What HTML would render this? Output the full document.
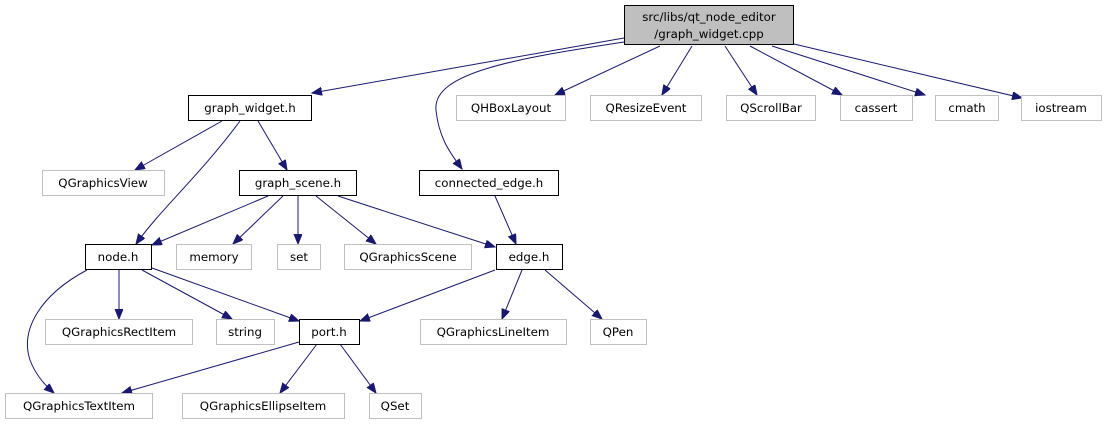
<!DOCTYPE html>
<html><head><meta charset="utf-8"><style>
html,body{margin:0;padding:0;background:#fff;}
svg{display:block;}
text{font-family:"DejaVu Sans","Liberation Sans",sans-serif;font-size:11.8px;fill:#000;}
.g{fill:#fff;stroke:#bfbfbf;stroke-width:1;}
.b{fill:#fff;stroke:#000;stroke-width:1;}
.e{fill:none;stroke:#191970;stroke-width:1;}
</style></head><body>
<svg width="1108" height="425" viewBox="0 0 1108 425" xmlns="http://www.w3.org/2000/svg">
<defs><marker id="a" markerUnits="userSpaceOnUse" markerWidth="12" markerHeight="10" refX="10" refY="4" orient="auto"><path d="M0,0 L10,4 L0,8 Z" fill="#191970" stroke="#191970"/></marker></defs>
<g marker-end="url(#a)">
<path class="e" d="M624,38 L312,93"/>
<path class="e" d="M624,42 C520,58 432,72 436,110 C439,140 452,155 462,169"/>
<path class="e" d="M660,46 L555,95"/>
<path class="e" d="M692,46 L662,95"/>
<path class="e" d="M725,46 L757,95"/>
<path class="e" d="M750,46 L842,95"/>
<path class="e" d="M772,46 L925,95"/>
<path class="e" d="M794,44 L1022,98"/>
<path class="e" d="M222,121 L135,170"/>
<path class="e" d="M240,121 C200,175 160,210 136,244"/>
<path class="e" d="M258,121 L287,170"/>
<path class="e" d="M268,196 L152,245"/>
<path class="e" d="M283,196 L233,244"/>
<path class="e" d="M298,196 L298,244"/>
<path class="e" d="M316,196 L376,244"/>
<path class="e" d="M338,196 L495,247"/>
<path class="e" d="M495,196 L516,244"/>
<path class="e" d="M119,270 L119,319"/>
<path class="e" d="M142,270 L232,319"/>
<path class="e" d="M152,268 L299,321"/>
<path class="e" d="M87,270 C40,295 20,330 30,360 C36,376 46,386 54,393"/>
<path class="e" d="M495,270 L360,321"/>
<path class="e" d="M522,270 L502,319"/>
<path class="e" d="M545,270 L602,319"/>
<path class="e" d="M299,342 L122,393"/>
<path class="e" d="M317,344 L280,393"/>
<path class="e" d="M340,344 L376,393"/>
</g>
<rect x="624.5" y="5.5" width="169" height="39" fill="#bfbfbf" stroke="#000"/>
<text x="709" y="21" text-anchor="middle">src/libs/qt_node_editor</text>
<text x="709" y="38" text-anchor="middle">/graph_widget.cpp</text>
<g text-anchor="middle">
<rect class="b" x="188.5" y="95.5" width="123" height="25"/><text x="250" y="112">graph_widget.h</text>
<rect class="g" x="456.5" y="95.5" width="109" height="25"/><text x="511" y="112">QHBoxLayout</text>
<rect class="g" x="590.5" y="95.5" width="111" height="25"/><text x="646" y="112">QResizeEvent</text>
<rect class="g" x="726.5" y="95.5" width="89" height="25"/><text x="771" y="112">QScrollBar</text>
<rect class="g" x="840.5" y="95.5" width="72" height="25"/><text x="876" y="112">cassert</text>
<rect class="g" x="935.5" y="95.5" width="63" height="25"/><text x="967" y="112">cmath</text>
<rect class="g" x="1021.5" y="95.5" width="80" height="25"/><text x="1061" y="112">iostream</text>
<rect class="g" x="42.5" y="170.5" width="122" height="25"/><text x="103" y="187">QGraphicsView</text>
<rect class="b" x="239.5" y="170.5" width="117" height="25"/><text x="298" y="187">graph_scene.h</text>
<rect class="b" x="419.5" y="170.5" width="139" height="25"/><text x="489" y="187">connected_edge.h</text>
<rect class="b" x="85.5" y="244.5" width="66" height="25"/><text x="118" y="261">node.h</text>
<rect class="g" x="176.5" y="244.5" width="75" height="25"/><text x="214" y="261">memory</text>
<rect class="g" x="277.5" y="244.5" width="43" height="25"/><text x="299" y="261">set</text>
<rect class="g" x="344.5" y="244.5" width="127" height="25"/><text x="408" y="261">QGraphicsScene</text>
<rect class="b" x="496.5" y="244.5" width="66" height="25"/><text x="529" y="261">edge.h</text>
<rect class="g" x="45.5" y="319.5" width="147" height="25"/><text x="119" y="336">QGraphicsRectItem</text>
<rect class="g" x="216.5" y="319.5" width="58" height="25"/><text x="245" y="336">string</text>
<rect class="b" x="299.5" y="319.5" width="60" height="25"/><text x="329" y="336">port.h</text>
<rect class="g" x="420.5" y="319.5" width="146" height="25"/><text x="493" y="336">QGraphicsLineItem</text>
<rect class="g" x="590.5" y="319.5" width="56" height="25"/><text x="618" y="336">QPen</text>
<rect class="g" x="5.5" y="393.5" width="147" height="25"/><text x="79" y="410">QGraphicsTextItem</text>
<rect class="g" x="182.5" y="393.5" width="162" height="25"/><text x="263" y="410">QGraphicsEllipseItem</text>
<rect class="g" x="369.5" y="393.5" width="52" height="25"/><text x="395" y="410">QSet</text>
</g>
</svg>
</body></html>
